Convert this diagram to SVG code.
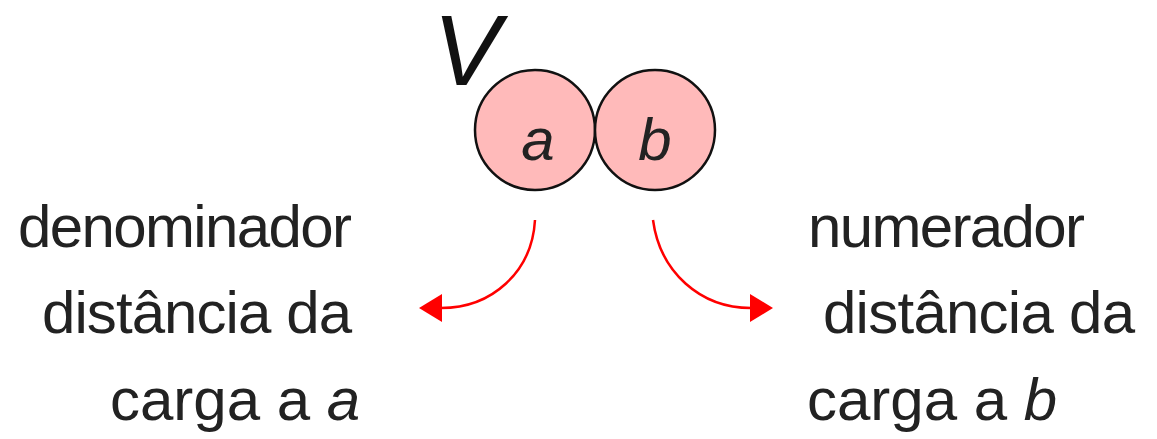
<svg xmlns="http://www.w3.org/2000/svg" width="1157" height="439" viewBox="0 0 1157 439">
<style>
.t{font-family:"Liberation Sans",Arial,sans-serif;font-size:60px;fill:#222}
.i{font-style:italic}
.big{font-size:101px;fill:#111}
.c{fill:#ffbaba;stroke:#111;stroke-width:2.5}
.arr{fill:none;stroke:#ff0000;stroke-width:2.5}
</style>
<defs>
<marker id="ah" markerUnits="userSpaceOnUse" markerWidth="24" markerHeight="30" refX="1" refY="14" orient="auto">
<path d="M0,0 L23,14 L0,28 z" fill="#ff0000"/>
</marker>
</defs>
<rect width="1157" height="439" fill="#fff"/>
<g id="V"><text class="t i big" x="433" y="85">V</text></g>
<g id="node-a">
<circle class="c" cx="535" cy="130" r="60"/>
<text class="t i" x="538" y="160" text-anchor="middle">a</text>
</g>
<g id="node-b">
<circle class="c" cx="655" cy="130" r="60"/>
<text class="t i" x="655" y="160" text-anchor="middle">b</text>
</g>
<g id="label-left">
<text class="t" x="18" y="247" textLength="334">denominador</text>
<text class="t" x="42" y="333" textLength="310">distância da</text>
<text class="t" x="110" y="420" textLength="250">carga a <tspan class="i">a</tspan></text>
</g>
<g id="label-right">
<text class="t" x="808" y="247" textLength="277">numerador</text>
<text class="t" x="823" y="333" textLength="312">distância da</text>
<text class="t" x="807" y="420" textLength="250">carga a <tspan class="i">b</tspan></text>
</g>
<g id="connectors">
<path class="arr" d="M535,220 C532,272 492,308 441,308" marker-end="url(#ah)"/>
<path class="arr" d="M653,220 C660,272 700,308 751,308" marker-end="url(#ah)"/>
</g>
</svg>
